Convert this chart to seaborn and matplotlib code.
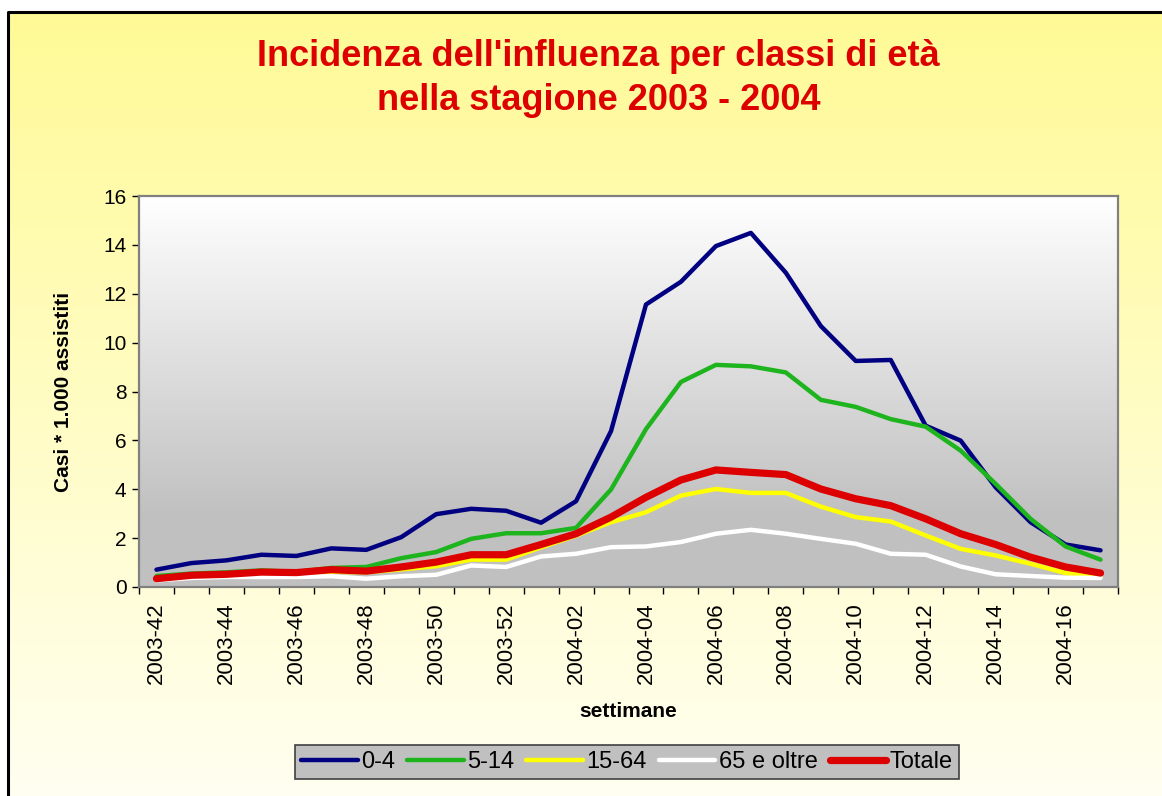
import numpy as np
import pandas as pd
import seaborn as sns
import matplotlib.pyplot as plt
from matplotlib.lines import Line2D

# weeks of the 2003-2004 season
weeks = ["2003-42", "2003-43", "2003-44", "2003-45", "2003-46", "2003-47", "2003-48",
         "2003-49", "2003-50", "2003-51", "2003-52", "2004-01", "2004-02", "2004-03",
         "2004-04", "2004-05", "2004-06", "2004-07", "2004-08", "2004-09", "2004-10",
         "2004-11", "2004-12", "2004-13", "2004-14", "2004-15", "2004-16", "2004-17"]

eta_0_4 = [0.71, 0.98, 1.09, 1.32, 1.27, 1.58, 1.52, 2.04, 2.98, 3.20, 3.12, 2.63, 3.51, 6.38,
           11.56, 12.49, 13.95, 14.49, 12.86, 10.68, 9.25, 9.29, 6.60, 5.99, 4.08, 2.65, 1.74, 1.50]
eta_5_14 = [0.45, 0.55, 0.60, 0.68, 0.62, 0.78, 0.82, 1.18, 1.43, 1.97, 2.20, 2.20, 2.42, 3.99,
            6.46, 8.39, 9.09, 9.03, 8.78, 7.66, 7.37, 6.87, 6.56, 5.58, 4.22, 2.79, 1.66, 1.12]
eta_15_64 = [0.30, 0.40, 0.45, 0.55, 0.55, 0.62, 0.60, 0.72, 0.85, 1.12, 1.12, 1.62, 2.10, 2.65,
             3.06, 3.74, 4.01, 3.85, 3.85, 3.29, 2.86, 2.68, 2.11, 1.56, 1.29, 0.95, 0.57, 0.41]
eta_65 = [0.27, 0.37, 0.41, 0.41, 0.41, 0.44, 0.34, 0.44, 0.50, 0.88, 0.82, 1.25, 1.36, 1.63,
          1.66, 1.84, 2.18, 2.34, 2.18, 1.97, 1.77, 1.36, 1.32, 0.84, 0.52, 0.45, 0.38, 0.37]
totale = [0.34, 0.48, 0.52, 0.61, 0.59, 0.71, 0.65, 0.82, 1.02, 1.32, 1.32, 1.74, 2.18, 2.86,
          3.67, 4.38, 4.79, 4.69, 4.60, 4.01, 3.61, 3.33, 2.79, 2.18, 1.74, 1.22, 0.82, 0.57]

classi = ["0-4", "5-14", "15-64", "65 e oltre", "Totale"]
colori = ["#000080", "#1EB41E", "#FFFF00", "#FFFFFF", "#DD0000"]
spessori = [3.2, 3.2, 3.2, 3.2, 5.2]

df = pd.DataFrame({"pos": range(len(weeks)), "settimana": weeks,
                   "0-4": eta_0_4, "5-14": eta_5_14, "15-64": eta_15_64,
                   "65 e oltre": eta_65, "Totale": totale})
df = df.melt(id_vars=["pos", "settimana"], var_name="classe", value_name="casi")

sns.set_theme(style="white")
plt.rcParams['font.family'] = ['Liberation Sans', 'DejaVu Sans']
plt.rcParams['text.color'] = 'black'

W, H = 1162, 796
fig = plt.figure(figsize=(W / 100, H / 100), dpi=100)

# yellow page background with black frame
bg = fig.add_axes([0, 0, 1, 1], zorder=0)
grad = np.linspace(0, 1, 256)[:, None, None]
top = np.array([255, 250, 150]) / 255
bottom = np.array([255, 255, 242]) / 255
bg.imshow(top + (bottom - top) * grad, extent=[8, W + 10, H + 10, 12], aspect='auto')
bg.plot([8, 8, W + 10], [H + 10, 12, 12], color='black', lw=2.2)
bg.set_xlim(0, W)
bg.set_ylim(H, 0)
bg.axis('off')

# plot area: white to grey gradient
ax = fig.add_axes([139 / W, 1 - 587 / H, 979 / W, 391 / H], zorder=1)
pgrad = np.clip(np.linspace(1.0, 0.70, 256), 0.753, 1)[:, None]
ax.imshow(np.repeat(pgrad, 3, axis=1)[:, :, None] * np.ones(3), extent=[-0.5, 27.5, 0, 16],
          aspect='auto', zorder=0, interpolation='bilinear')

for name, c, lw in zip(classi, colori, spessori):
    sns.lineplot(data=df[df["classe"] == name], x="pos", y="casi", color=c, linewidth=lw,
                 ax=ax, legend=False, solid_capstyle='round', zorder=3)

ax.set_xlim(-0.5, 27.5)
ax.set_ylim(0, 16)
ax.set_yticks(range(0, 17, 2))
ax.set_xticks(range(0, len(weeks), 2))
ax.set_xticklabels(weeks[::2], rotation=90)
ax.set_xticks(np.arange(-0.5, len(weeks), 1), minor=True)
ax.tick_params(axis='x', which='major', length=0, pad=11, labelsize=16, labelcolor='black')
ax.tick_params(axis='x', which='minor', length=5, width=1, color='black', direction='out', bottom=True)
ax.tick_params(axis='y', which='major', length=5, width=1, color='black', direction='out', left=True,
               labelsize=15, pad=4, labelcolor='black')
for s in ax.spines.values():
    s.set_color('#808080')
    s.set_linewidth(1.6)

ax.set_xlabel("settimane", fontsize=15, fontweight='bold', color='black')
ax.xaxis.set_label_coords(0.5, -0.295)
ax.set_ylabel("Casi * 1.000 assistiti", fontsize=15, fontweight='bold', color='black')
ax.yaxis.set_label_coords(-0.077, 0.5)
ax.yaxis.label.set_va('center')

fig.text(0.515, 1 - 56 / H, "Incidenza dell'influenza per classi di età", ha='center', va='center',
         fontsize=26, fontweight='bold', color='#DD0000')
fig.text(0.515, 1 - 101 / H, "nella stagione 2003 - 2004", ha='center', va='center',
         fontsize=26, fontweight='bold', color='#DD0000')

handles = [Line2D([], [], color=c, lw=lw, solid_capstyle='round') for c, lw in zip(colori, spessori)]
leg = fig.legend(handles, classi, loc='center', bbox_to_anchor=(627 / W, 1 - 762 / H), ncol=5,
                 fontsize=17, frameon=True, fancybox=False, facecolor='#C0C0C0', edgecolor='#404040',
                 handlelength=2.4, handletextpad=0.15, columnspacing=0.5, borderpad=0.25,
                 framealpha=1, labelcolor='black')
leg.get_frame().set_linewidth(1.2)

fig.savefig("out.png", dpi=100)
